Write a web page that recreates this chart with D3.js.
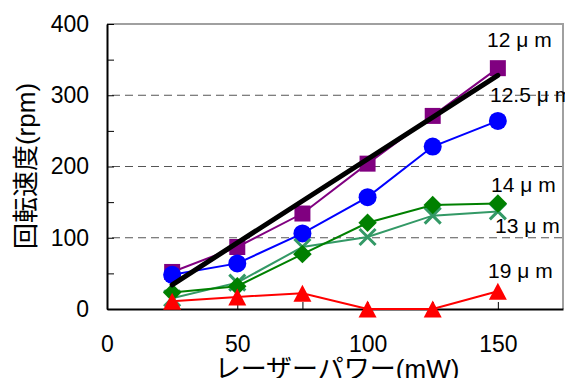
<!DOCTYPE html>
<html>
<head>
<meta charset="utf-8">
<script src="https://cdn.jsdelivr.net/npm/d3@7"></script>
<style>
  body { margin: 0; background: #fff; }
  svg { display: block; font-family: "Liberation Sans", Arial, "Noto Sans CJK JP", sans-serif; }
</style>
</head>
<body>
<div id="chart"></div>
<script>
// laser power (mW)
const power = [25, 50, 75, 100, 125, 150];

// rotation speed (rpm) for each fibre diameter
const s12 = [52, 87, 134, 204, 271, 338];
const s125 = [48, 64, 106, 157, 228, 264];
const s13 = [15, 37, 87, 101, 131, 137];
const s14 = [23, 32, 77, 121, 146, 148];
const s19 = [11, 17, 22, 0, 0, 25];

// black fit line end points [power, rpm]
const trend = [[25, 34], [150, 328]];

const seriesLabels = ['12 μ m', '12.5 μ m', '14 μ m', '13 μ m', '19 μ m'];
const yTicks = [0, 50, 100, 150, 200, 250, 300, 350, 400];
const xTicks = [0, 25, 50, 75, 100, 125, 150];

const width = 565;
const height = 378;
const plot = { left: 107, right: 563, top: 24, bottom: 309 };

const svg = d3.select('#chart')
    .append('svg')
    .attr('width', width)
    .attr('height', height);

const xScale = d3.scaleLinear().domain([0, 175]).range([plot.left, plot.right]);
const yScale = d3.scaleLinear().domain([0, 400]).range([plot.bottom, plot.top]);

// dashed grid at 100, 200, 300
svg.append('g')
    .selectAll('line')
    .data([100, 200, 300])
    .join('line')
    .attr('x1', plot.left)
    .attr('x2', plot.right)
    .attr('y1', (d) => yScale(d))
    .attr('y2', (d) => yScale(d))
    .attr('stroke', '#555')
    .attr('stroke-width', 1)
    .attr('stroke-dasharray', '8,5')
    .attr('stroke-dashoffset', -5);

// grey frame top and right
svg.append('path')
    .attr('d', `M${plot.left},${plot.top}H${plot.right}V${plot.bottom}`)
    .attr('fill', 'none')
    .attr('stroke', '#a0a0a0')
    .attr('stroke-width', 2);

// axes
const yAxis = d3.axisLeft(yScale)
    .tickValues(yTicks)
    .tickSize(-7)
    .tickSizeOuter(0)
    .tickPadding(18)
    .tickFormat((d) => (d % 100 === 0 ? d : ''));

const xAxis = d3.axisBottom(xScale)
    .tickValues(xTicks)
    .tickSize(-7)
    .tickSizeOuter(0)
    .tickPadding(27)
    .tickFormat((d) => (d % 50 === 0 ? d : ''));

const gy = svg.append('g').attr('transform', `translate(${plot.left},0)`).call(yAxis);
const gx = svg.append('g').attr('transform', `translate(0,${plot.bottom})`).call(xAxis);

[gx, gy].forEach((g) => {
    g.select('.domain').attr('stroke', '#000').attr('stroke-width', 2);
    g.selectAll('.tick line').attr('stroke', '#000').attr('stroke-width', 1);
    g.selectAll('.tick text')
        .attr('fill', '#000')
        .style('font-size', '23px')
        .style('font-family', '"Liberation Sans", Arial, sans-serif');
});

// axis titles
svg.append('text')
    .attr('x', 337)
    .attr('y', 378)
    .attr('text-anchor', 'middle')
    .style('font-size', '26px')
    .text('レーザーパワー(mW)');

svg.append('text')
    .attr('transform', 'translate(35,166) rotate(-90)')
    .attr('text-anchor', 'middle')
    .style('font-size', '26px')
    .text('回転速度(rpm)');

// marker shapes
const squareMark = d3.symbol(d3.symbolSquare, 256);
const circleMark = d3.symbol(d3.symbolCircle, 254);
const diamondMark = d3.symbol(d3.symbolSquare, 170);
const triangleMark = () => 'M0,-8.5L9,8.5L-9,8.5Z';
const crossMark = () => 'M-8,-8L8,8M-8,8L8,-8';

const series = [
    { values: s12, color: '#800080', mark: squareMark, rot: 0, fill: true },
    { values: s125, color: '#0000ff', mark: circleMark, rot: 0, fill: true },
    { values: s13, color: '#339966', mark: crossMark, rot: 0, fill: false },
    { values: s14, color: '#008000', mark: diamondMark, rot: 45, fill: true },
    { values: s19, color: '#ff0000', mark: triangleMark, rot: 0, fill: true },
];

const line = d3.line()
    .x((d) => xScale(d[0]))
    .y((d) => yScale(d[1]));

series.forEach((s) => {
    const pts = power.map((p, i) => [p, s.values[i]]);
    const g = svg.append('g');
    g.append('path')
        .attr('d', line(pts))
        .attr('fill', 'none')
        .attr('stroke', s.color)
        .attr('stroke-width', 2);
    g.selectAll('path.mark')
        .data(pts)
        .join('path')
        .attr('class', 'mark')
        .attr('d', s.mark)
        .attr('transform', (d) => `translate(${xScale(d[0])},${yScale(d[1])}) rotate(${s.rot})`)
        .attr('fill', s.fill ? s.color : 'none')
        .attr('stroke', s.fill ? 'none' : s.color)
        .attr('stroke-width', 3);
});

// black fit line
svg.append('path')
    .attr('d', line(trend))
    .attr('fill', 'none')
    .attr('stroke', '#000')
    .attr('stroke-width', 5)
    .attr('stroke-linecap', 'round');

// series labels
const labelPos = [[487, 47], [490, 102], [491, 192], [495, 233], [488, 278]];
svg.append('g')
    .selectAll('text')
    .data(seriesLabels)
    .join('text')
    .attr('x', (d, i) => labelPos[i][0])
    .attr('y', (d, i) => labelPos[i][1])
    .style('font-size', '21px')
    .text((d) => d);
</script>
</body>
</html>
